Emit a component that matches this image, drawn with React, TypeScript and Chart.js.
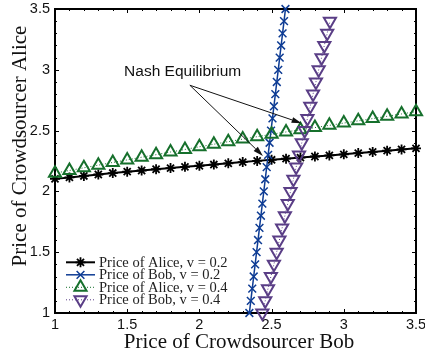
import React, { useEffect, useRef } from 'react';
import { Chart, registerables } from 'chart.js';

Chart.register(...registerables);

// ---------- data ----------
const alicePriceGrid = [
  1.0, 1.1, 1.2, 1.3, 1.4, 1.5, 1.6, 1.7, 1.8, 1.9, 2.0, 2.1, 2.2,
  2.3, 2.4, 2.5, 2.6, 2.7, 2.8, 2.9, 3.0, 3.1, 3.2, 3.3, 3.4, 3.5,
];
const aliceV02 = [
  2.103, 2.115, 2.127, 2.139, 2.151, 2.162, 2.172, 2.182, 2.192, 2.202, 2.211, 2.221, 2.231,
  2.241, 2.251, 2.26, 2.269, 2.278, 2.287, 2.296, 2.305, 2.315, 2.325, 2.335, 2.345, 2.354,
];
const aliceV04 = [
  2.15, 2.172, 2.194, 2.216, 2.238, 2.259, 2.281, 2.302, 2.324, 2.345, 2.367, 2.388, 2.409,
  2.43, 2.45, 2.47, 2.489, 2.507, 2.525, 2.543, 2.562, 2.58, 2.599, 2.618, 2.637, 2.656,
];
const bobGridV02 = [
  1.0, 1.1, 1.2, 1.3, 1.4, 1.5, 1.6, 1.7, 1.8, 1.9, 2.0, 2.1, 2.2,
  2.3, 2.4, 2.5, 2.6, 2.7, 2.8, 2.9, 3.0, 3.1, 3.2, 3.3, 3.4, 3.5,
];
const bobV02 = [
  2.346, 2.356, 2.366, 2.376, 2.386, 2.396, 2.406, 2.416, 2.426, 2.436, 2.446, 2.456, 2.466,
  2.476, 2.486, 2.496, 2.506, 2.516, 2.526, 2.536, 2.546, 2.556, 2.566, 2.576, 2.586, 2.596,
];
const bobGridV04 = [
  1.0, 1.1, 1.2, 1.3, 1.4, 1.5, 1.6, 1.7, 1.8, 1.9, 2.0, 2.1, 2.2,
  2.3, 2.4, 2.5, 2.6, 2.7, 2.8, 2.9, 3.0, 3.1, 3.2, 3.3, 3.4,
];
const bobV04 = [
  2.436, 2.456, 2.475, 2.495, 2.516, 2.535, 2.554, 2.573, 2.592, 2.612, 2.631, 2.651, 2.67,
  2.69, 2.709, 2.729, 2.748, 2.768, 2.787, 2.807, 2.826, 2.846, 2.865, 2.885, 2.904,
];

const seriesLabels = [
  'Price of Alice, v = 0.2',
  'Price of Bob, v = 0.2',
  'Price of Alice, v = 0.4',
  'Price of Bob, v = 0.4',
];
const axisMin = 1;
const axisMax = 3.5;
const majorStep = 0.5;
const minorStep = 0.1;
const xTitle = 'Price of Crowdsourcer Bob';
const yTitle = 'Price of Crowdsourcer Alice';
const annotationText = 'Nash Equilibrium';
const annotationTextAt = { x: 1.884, y: 2.984 };
const arrowFrom = { x: 1.934, y: 2.873 };
const arrowTargets = [
  { x: 2.708, y: 2.561 },
  { x: 2.44, y: 2.292 },
];

// ---------- styles ----------
const BLACK = '#000000';
const BLUE = '#0e3c94';
const GREEN = '#16702c';
const PURPLE = '#5a3e86';
const SANS = '"Liberation Sans", Arial, sans-serif';
const SERIF = '"Liberation Serif", "Times New Roman", serif';

type Marker = 'star' | 'crossRot' | 'triUp' | 'triDown';
const legendStyles: { color: string; lw: number; dash: number[]; marker: Marker; r: number; mlw: number }[] = [
  { color: BLACK, lw: 2, dash: [], marker: 'star', r: 5, mlw: 1.8 },
  { color: BLUE, lw: 1.5, dash: [], marker: 'crossRot', r: 5.5, mlw: 1.5 },
  { color: GREEN, lw: 1, dash: [1, 2], marker: 'triUp', r: 7, mlw: 2 },
  { color: PURPLE, lw: 1, dash: [1, 2], marker: 'triDown', r: 7, mlw: 2 },
];

function drawMarker(ctx: CanvasRenderingContext2D, m: Marker, x: number, y: number, r: number) {
  ctx.beginPath();
  if (m === 'star') {
    ctx.moveTo(x - r, y); ctx.lineTo(x + r, y);
    ctx.moveTo(x, y - r); ctx.lineTo(x, y + r);
    const d = r * Math.SQRT1_2;
    ctx.moveTo(x - d, y - d); ctx.lineTo(x + d, y + d);
    ctx.moveTo(x - d, y + d); ctx.lineTo(x + d, y - d);
    ctx.stroke();
  } else if (m === 'crossRot') {
    const d = r * Math.SQRT1_2;
    ctx.moveTo(x - d, y - d); ctx.lineTo(x + d, y + d);
    ctx.moveTo(x - d, y + d); ctx.lineTo(x + d, y - d);
    ctx.stroke();
  } else {
    const s = m === 'triUp' ? 1 : -1;
    const h = (Math.sqrt(3) / 2) * r;
    ctx.moveTo(x, y - s * r);
    ctx.lineTo(x + h, y + s * r / 2);
    ctx.lineTo(x - h, y + s * r / 2);
    ctx.closePath();
    ctx.stroke();
  }
}

const decorPlugin = {
  id: 'decor',
  beforeDatasetsDraw(chart: any) {
    const { ctx, chartArea: a, scales } = chart;
    const xs = scales.x;
    const ys = scales.y;
    ctx.save();
    ctx.strokeStyle = BLACK;
    ctx.lineWidth = 1;
    const n = Math.round((axisMax - axisMin) / minorStep);
    const per = Math.round(majorStep / minorStep);
    ctx.beginPath();
    for (let i = 0; i <= n; i++) {
      const v = axisMin + i * minorStep;
      const len = i % per === 0 ? 4 : 2;
      const px = Math.round(xs.getPixelForValue(v)) + 0.5;
      ctx.moveTo(px, a.bottom); ctx.lineTo(px, a.bottom - len);
      ctx.moveTo(px, a.top); ctx.lineTo(px, a.top + len);
      const py = Math.round(ys.getPixelForValue(v)) + 0.5;
      ctx.moveTo(a.left, py); ctx.lineTo(a.left + len, py);
      ctx.moveTo(a.right, py); ctx.lineTo(a.right - len, py);
    }
    ctx.stroke();
    ctx.lineWidth = 2;
    ctx.strokeRect(a.left, a.top, a.right - a.left, a.bottom - a.top);
    ctx.restore();
  },
  afterDraw(chart: any) {
    const { ctx, scales } = chart;
    const xs = scales.x;
    const ys = scales.y;
    ctx.save();
    // annotation
    ctx.fillStyle = '#111';
    ctx.font = `15.5px ${SANS}`;
    ctx.textAlign = 'center';
    ctx.textBaseline = 'middle';
    ctx.fillText(annotationText, xs.getPixelForValue(annotationTextAt.x), ys.getPixelForValue(annotationTextAt.y));
    const fx = xs.getPixelForValue(arrowFrom.x);
    const fy = ys.getPixelForValue(arrowFrom.y);
    ctx.strokeStyle = '#111';
    ctx.lineWidth = 1;
    for (const t of arrowTargets) {
      const tx = xs.getPixelForValue(t.x);
      const ty = ys.getPixelForValue(t.y);
      const ang = Math.atan2(ty - fy, tx - fx);
      const L = 10;
      const W = 3;
      const bx = tx - Math.cos(ang) * L;
      const by = ty - Math.sin(ang) * L;
      ctx.beginPath();
      ctx.moveTo(fx, fy);
      ctx.lineTo(bx, by);
      ctx.stroke();
      ctx.beginPath();
      ctx.moveTo(tx, ty);
      ctx.lineTo(bx + Math.sin(ang) * W, by - Math.cos(ang) * W);
      ctx.lineTo(bx - Math.sin(ang) * W, by + Math.cos(ang) * W);
      ctx.closePath();
      ctx.fill();
    }
    // axis titles
    ctx.fillStyle = '#111';
    ctx.font = `21px ${SERIF}`;
    ctx.textAlign = 'center';
    ctx.textBaseline = 'middle';
    ctx.fillText(xTitle, 239, 342);
    ctx.save();
    ctx.translate(20, 146);
    ctx.rotate(-Math.PI / 2);
    ctx.fillText(yTitle, 0, 0);
    ctx.restore();
    // legend
    const rowY = [262.3, 274.8, 287.3, 299.8];
    ctx.font = `14.5px ${SERIF}`;
    ctx.textAlign = 'left';
    ctx.textBaseline = 'middle';
    seriesLabels.forEach((label, i) => {
      const st = legendStyles[i];
      const y = rowY[i];
      ctx.strokeStyle = st.color;
      ctx.lineWidth = st.lw;
      ctx.setLineDash(st.dash);
      ctx.beginPath();
      ctx.moveTo(66, y);
      ctx.lineTo(95, y);
      ctx.stroke();
      ctx.setLineDash([]);
      ctx.lineWidth = st.mlw;
      drawMarker(ctx, st.marker, 80.5, y, st.r);
      ctx.fillStyle = '#222';
      ctx.fillText(label, 99, y + 0.5);
    });
    ctx.restore();
  },
};

const formatTick = (v: number | string) => String(Number(v));

export default function App() {
  const ref = useRef<HTMLCanvasElement | null>(null);
  useEffect(() => {
    if (!ref.current) return;
    const pts = (xs: number[], ys: number[]) => xs.map((x, i) => ({ x, y: ys[i] }));
    const tickFont = { family: SANS, size: 14.5 };
    const chart = new Chart(ref.current, {
      type: 'scatter',
      data: {
        datasets: [
          {
            label: seriesLabels[0],
            data: pts(alicePriceGrid, aliceV02),
            showLine: true,
            borderColor: BLACK,
            borderWidth: 2,
            pointStyle: 'star',
            pointRadius: 5,
            pointBorderWidth: 1.8,
            pointBorderColor: BLACK,
            pointBackgroundColor: 'rgba(0,0,0,0)',
            clip: false,
            order: 4,
          },
          {
            label: seriesLabels[1],
            data: pts(bobV02, bobGridV02),
            showLine: true,
            borderColor: BLUE,
            borderWidth: 1.5,
            pointStyle: 'crossRot',
            pointRadius: 5.5,
            pointBorderWidth: 1.5,
            pointBorderColor: BLUE,
            pointBackgroundColor: 'rgba(0,0,0,0)',
            clip: false,
            order: 3,
          },
          {
            label: seriesLabels[2],
            data: pts(alicePriceGrid, aliceV04),
            showLine: true,
            borderColor: GREEN,
            borderWidth: 1,
            borderDash: [1, 2],
            pointStyle: 'triangle',
            pointRadius: 7,
            pointBorderWidth: 2,
            pointBorderColor: GREEN,
            pointBackgroundColor: 'rgba(0,0,0,0)',
            clip: false,
            order: 2,
          },
          {
            label: seriesLabels[3],
            data: pts(bobV04, bobGridV04),
            showLine: true,
            borderColor: PURPLE,
            borderWidth: 1,
            borderDash: [1, 2],
            pointStyle: 'triangle',
            pointRotation: 180,
            pointRadius: 7,
            pointBorderWidth: 2,
            pointBorderColor: PURPLE,
            pointBackgroundColor: 'rgba(0,0,0,0)',
            clip: false,
            order: 1,
          },
        ],
      },
      options: {
        animation: false,
        responsive: true,
        maintainAspectRatio: false,
        devicePixelRatio: 1,
        events: [],
        layout: { padding: { top: 4, right: 9, left: 0, bottom: 0 } },
        plugins: { legend: { display: false }, tooltip: { enabled: false }, title: { display: false } },
        scales: {
          x: {
            type: 'linear',
            position: 'bottom',
            min: axisMin,
            max: axisMax,
            grid: { display: false, drawTicks: false },
            border: { display: false },
            ticks: { stepSize: majorStep, color: '#111', font: tickFont, padding: 3, maxRotation: 0, callback: formatTick },
            afterFit: (s: any) => {
              s.height = 47;
              s.paddingLeft = 0;
              s.paddingRight = 0;
            },
          },
          y: {
            type: 'linear',
            min: axisMin,
            max: axisMax,
            grid: { display: false, drawTicks: false },
            border: { display: false },
            ticks: { stepSize: majorStep, color: '#111', font: tickFont, padding: 5, callback: formatTick },
            afterFit: (s: any) => {
              s.width = 55;
              s.paddingTop = 0;
              s.paddingBottom = 0;
            },
          },
        },
      } as any,
      plugins: [decorPlugin],
    });
    return () => chart.destroy();
  }, []);
  return (
    <div style={{ position: 'absolute', left: 0, top: 0, width: 425, height: 360 }}>
      <canvas ref={ref} />
    </div>
  );
}
